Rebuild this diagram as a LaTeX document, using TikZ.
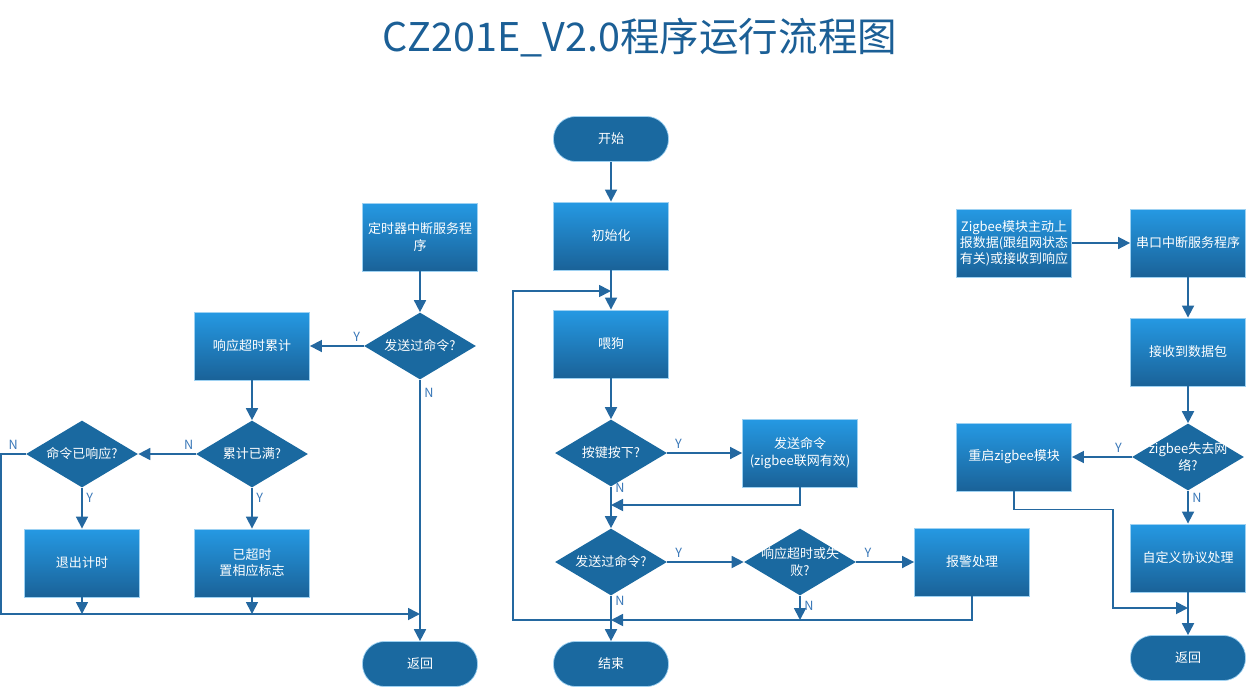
\documentclass[tikz,border=0pt]{standalone}
\usepackage{fontspec}
\setmainfont{Noto Sans CJK SC}
\usetikzlibrary{arrows.meta, shapes.geometric}
\definecolor{flowblue}{HTML}{1A69A0}
\definecolor{boxtop}{HTML}{2599E3}
\definecolor{boxbot}{HTML}{1A6298}
\definecolor{linkblue}{HTML}{2468A0}
\definecolor{ynblue}{HTML}{3A78B8}
\definecolor{titleblue}{HTML}{1B5F96}

\tikzset{
  proc/.style={rectangle, draw=boxtop!45!white, line width=0.5pt, top color=boxtop, bottom color=boxbot,
    minimum width=2.3cm, minimum height=1.36cm, text=white, align=center, inner sep=1pt},
  term/.style={rectangle, rounded corners=0.44cm, fill=flowblue, draw=boxtop!45!white, line width=0.4pt,
    minimum width=2.3cm, minimum height=0.9cm, text=white},
  decide/.style={diamond, fill=flowblue, minimum width=2.24cm, minimum height=1.34cm, inner sep=0pt},
  dtext/.style={text=white, align=center},
  flow/.style={draw=linkblue, line width=1pt, -{Triangle[length=0.24cm, width=0.24cm]}},
  yn/.style={text=ynblue, font=\fontsize{7.2}{8}\selectfont, inner sep=2pt},
  titletext/.style={font=\fontsize{22.5}{24}\selectfont}
}

\begin{document}
\begin{tikzpicture}[x=0.02cm, y=-0.02cm, font=\fontsize{7.4}{9.2}\selectfont]
    \useasboundingbox (0,0) rectangle (1250,690);

    % Title
    \node[titletext, text=titleblue] (title) at (640,38) {CZ201E\_V2.0程序运行流程图};

    % Timer interrupt
    \node[proc] (timer) at (420,237) {定时器中断服务程\\序};
    \node[decide, label={[dtext]center:发送过命令?}] (sentL) at (420,346) {};
    \node[proc] (accum) at (252,346) {响应超时累计};
    \node[decide, label={[dtext]center:累计已满?}] (full) at (252,454) {};
    \node[decide, label={[dtext]center:命令已响应?}] (answered) at (82,454) {};
    \node[proc] (quit) at (82,563) {退出计时};
    \node[proc] (expired) at (252,563) {已超时\\置相应标志};
    \node[term] (backL) at (420,664) {返回};
    \coordinate (joinL) at (420,614);

    \draw[flow] (timer) -- (sentL);
    \draw[flow] (sentL) -- node[yn, pos=0.13, above] (yA) {Y} (accum);
    \draw[flow] (sentL) -- node[yn, pos=0.05, right] (nA) {N} (backL);
    \draw[flow] (accum) -- (full);
    \draw[flow] (full) -- node[yn, pos=0.12, above] (nB) {N} (answered);
    \draw[flow] (full) -- node[yn, pos=0.25, right] (yB) {Y} (expired);
    \draw[flow] (answered) -- node[yn, pos=0.25, right] (yC) {Y} (quit);
    \draw[flow] (answered.west) -- node[yn, above] (nC) {N} ++(-25,0) |- (joinL);
    \draw[flow] (quit) -- (quit |- joinL);
    \draw[flow] (expired) -- (expired |- joinL);

    % Main loop
    \node[term] (start) at (611,139) {开始};
    \node[proc] (init) at (611,236) {初始化};
    \node[proc] (feed) at (611,344) {喂狗};
    \node[decide, label={[dtext]center:按键按下?}] (key) at (611,453) {};
    \node[proc] (send) at (800,453) {发送命令\\(zigbee联网有效)};
    \node[decide, label={[dtext]center:发送过命令?}] (sentM) at (611,562) {};
    \node[decide, label={[dtext]center:{响应超时或失\\败?}}] (timeout) at (800,562) {};
    \node[proc] (alarm) at (972,562) {报警处理};
    \node[term] (finish) at (611,664) {结束};
    \coordinate (loopin) at (611,291);
    \coordinate (joinM) at (611,505);
    \coordinate (joinB) at (611,620);
    \coordinate (loopcorner) at (513,620);

    \draw[flow] (start) -- (init);
    \draw[flow] (init) -- (feed);
    \draw[flow] (feed) -- (key);
    \draw[flow] (key) -- node[yn, pos=0.15, above] (yD) {Y} (send);
    \draw[flow] (key) -- node[yn, pos=0.03, right] (nD) {N} (sentM);
    \draw[flow] (send.south) |- (joinM);
    \draw[flow] (sentM) -- node[yn, pos=0.15, above] (yE) {Y} (timeout);
    \draw[flow] (timeout) -- node[yn, pos=0.2, above] (yF) {Y} (alarm);
    \draw[flow] (timeout) -- node[yn, pos=0.4, right] (nF) {N} (timeout |- joinB);
    \draw[flow] (sentM) -- node[yn, pos=0.1, right] (nE) {N} (finish);
    \draw[flow] (alarm.south) |- (joinB);
    \draw[flow] (joinB) -- (loopcorner) |- (loopin);

    % Serial interrupt
    \node[proc] (report) at (1014,243) {Zigbee模块主动上\\报数据(跟组网状态\\有关)或接收到响应};
    \node[proc] (uart) at (1188,243) {串口中断服务程序};
    \node[proc] (packet) at (1188,352) {接收到数据包};
    \node[decide, label={[dtext]center:{zigbee失去网\\络?}}] (lost) at (1188,457) {};
    \node[proc] (restart) at (1014,457) {重启zigbee模块};
    \node[proc] (custom) at (1188,558) {自定义协议处理};
    \node[term] (backR) at (1188,658) {返回};
    \coordinate (bendR) at (1113,608);
    \coordinate (joinR) at (1188,608);

    \draw[flow] (report) -- (uart);
    \draw[flow] (uart) -- (packet);
    \draw[flow] (packet) -- (lost);
    \draw[flow] (lost) -- node[yn, pos=0.22, above] (yG) {Y} (restart);
    \draw[flow] (lost) -- node[yn, pos=0.2, right] (nG) {N} (custom);
    \draw[flow] (custom) -- (backR);
    \draw[flow] (restart.south) -- ++(0,18) -| (bendR) -- (joinR);
\end{tikzpicture}
\end{document}
